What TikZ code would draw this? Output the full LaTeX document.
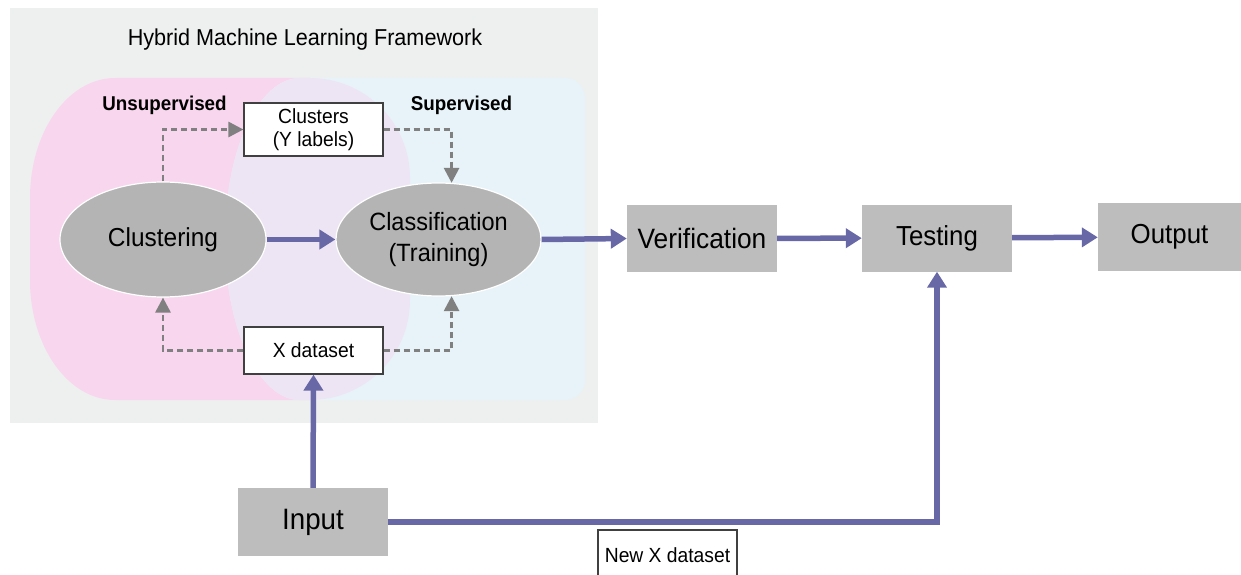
\documentclass[tikz,border=0pt]{standalone}
\usepackage{fontspec}
\setmainfont{Liberation Sans}[FakeStretch=0.94]
\usetikzlibrary{arrows.meta,shapes.geometric}
\definecolor{bggray}{HTML}{EEF0EF}
\definecolor{pinkc}{HTML}{F8D6EE}
\definecolor{bluec}{HTML}{E7F3F8}
\definecolor{lavc}{HTML}{EDE5F4}
\definecolor{ellgray}{HTML}{B4B4B4}
\definecolor{boxgray}{HTML}{BDBDBD}
\definecolor{flow}{HTML}{6868A6}
\definecolor{dashc}{HTML}{808080}
\begin{document}
\begin{tikzpicture}[x=1pt,y=-1pt,
  ell/.style={ellipse, fill=ellgray, draw=white, line width=1.2pt, inner sep=0pt,
    minimum width=206pt, minimum height=115pt, align=center,
    font=\fontsize{26}{31}\selectfont},
  gbox/.style={rectangle, fill=boxgray, inner sep=0pt, minimum width=150pt,
    minimum height=67pt, font=\fontsize{27.5}{30}\selectfont},
  wbox/.style={rectangle, fill=white, draw=black!75, line width=1.2pt, inner sep=0pt,
    minimum width=139pt, align=center, font=\fontsize{20.5}{23}\selectfont},
  flowarrow/.style={draw=flow, line width=5.5pt, -{Triangle[length=16pt,width=19pt]}},
  dasharrow/.style={draw=dashc, line width=2.8pt, dash pattern=on 6pt off 4pt,
    -{Triangle[length=15pt,width=15pt]}},
  lbl/.style={font=\bfseries\fontsize{20}{22}\selectfont, inner sep=0pt}
]
\path[use as bounding box, clip] (0,0) rectangle (1241,575);
% background
\fill[bggray] (10,8) rectangle (598,423);
% pink region
\fill[pinkc] (115,78) -- (310,78) arc[start angle=-90,end angle=0,radius=100]
  -- (410,300) arc[start angle=0,end angle=90,radius=100]
  -- (115,400) arc[start angle=90,end angle=180,x radius=85,y radius=120]
  -- (30,198) arc[start angle=180,end angle=270,x radius=85,y radius=120] -- cycle;
% blue region
\fill[bluec] (300,78) -- (565,78) arc[start angle=-90,end angle=0,radius=20]
  -- (585,380) arc[start angle=0,end angle=90,radius=20]
  -- (300,400) arc[start angle=90,end angle=270,x radius=75,y radius=161] -- cycle;
% overlap
\begin{scope}
\clip (115,78) -- (310,78) arc[start angle=-90,end angle=0,radius=100]
  -- (410,300) arc[start angle=0,end angle=90,radius=100]
  -- (115,400) arc[start angle=90,end angle=180,x radius=85,y radius=120]
  -- (30,198) arc[start angle=180,end angle=270,x radius=85,y radius=120] -- cycle;
\fill[lavc] (300,78) -- (565,78) arc[start angle=-90,end angle=0,radius=20]
  -- (585,380) arc[start angle=0,end angle=90,radius=20]
  -- (300,400) arc[start angle=90,end angle=270,x radius=75,y radius=161] -- cycle;
\end{scope}

% texts
\node[font=\fontsize{23}{26}\selectfont, inner sep=0pt] (title) at (305,40) {Hybrid Machine Learning Framework};
\node[lbl] (unsup) at (164.5,105) {Unsupervised};
\node[lbl] (sup) at (461.5,105) {Supervised};

% nodes
\node[ell] (clustering) at (163,239.5) {Clustering};
\node[ell, minimum width=205pt, minimum height=113pt, font=\fontsize{25}{31}\selectfont] (classification) at (438.5,239.5) {Classification\\(Training)};
\node[wbox, minimum height=53pt] (clusters) at (313.5,129.5) {Clusters\\(Y labels)};
\node[wbox, minimum height=47pt] (xdata) at (313.5,350.5) {X dataset};
\node[gbox, font=\fontsize{28}{30}\selectfont] (verification) at (702,238.5) {Verification};
\node[gbox] (testing) at (937,238) {Testing};
\node[gbox, minimum width=143pt, minimum height=68pt] (output) at (1169.5,237) {Output};
\node[gbox, minimum height=68pt, font=\fontsize{29.5}{32}\selectfont] (input) at (313,522) {Input};
\node[wbox, minimum width=139pt, minimum height=50pt] (newx) at (667.5,555) {New X dataset};

% flow connectors
\draw[flowarrow] (clustering) -- (classification);
\draw[flowarrow] (classification.east) -- (verification.west);
\draw[flowarrow] (verification) -- (testing);
\draw[flowarrow] (testing) -- (output);
\draw[flowarrow] (input.north) -- (xdata.south);
\draw[flowarrow] (input.east) -| (testing.south);

% dashed connectors
\draw[dasharrow] (clustering.north) |- (clusters.west);
\draw[dasharrow] (clusters.east) -| (classification.77);
\draw[dasharrow] (xdata.west) -| (clustering.south);
\draw[dasharrow] (xdata.east) -| (classification.-77);
\end{tikzpicture}
\end{document}
